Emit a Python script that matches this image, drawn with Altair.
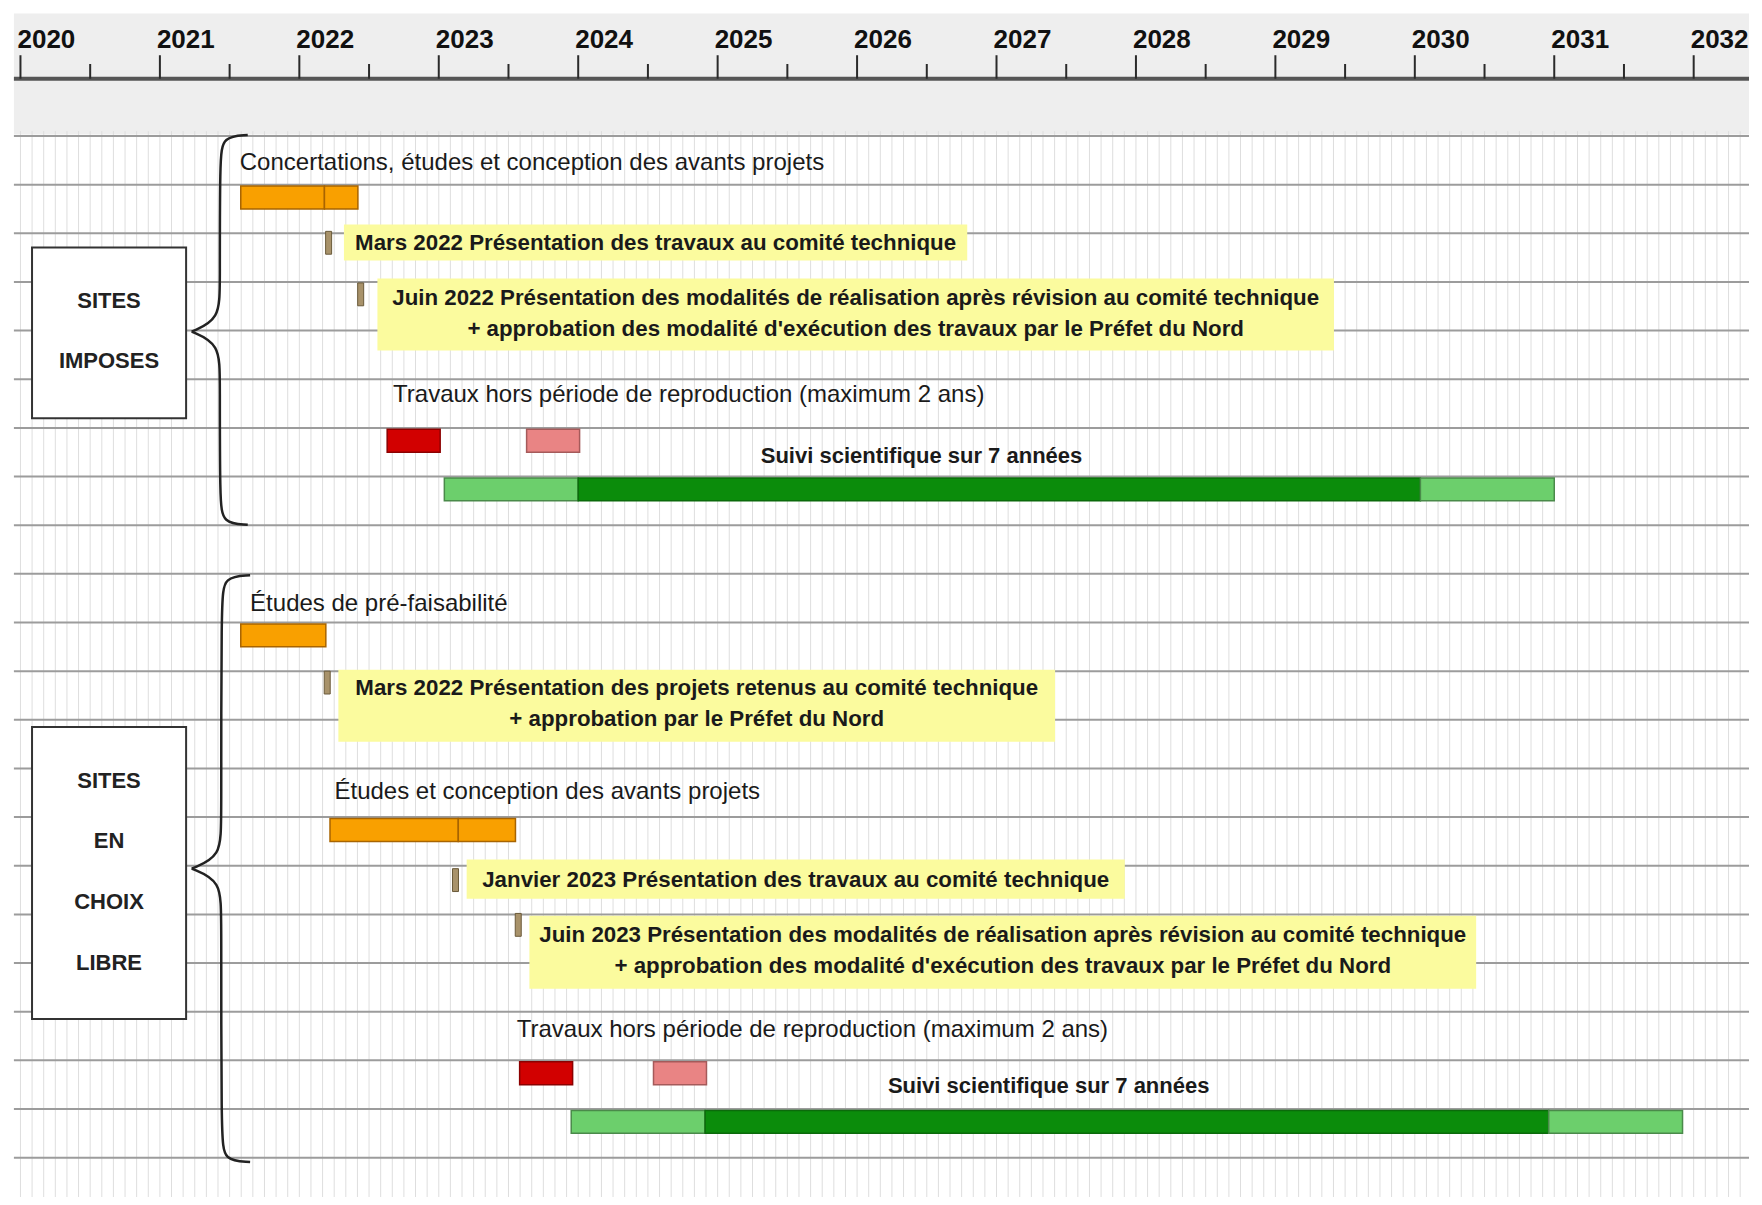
import altair as alt
import pandas as pd

FONT = "Liberation Sans, Arial, sans-serif"

# ---------------- axis (years) ----------------
year_ticks = [2020, 2021, 2022, 2023, 2024, 2025, 2026, 2027, 2028, 2029, 2030, 2031, 2032]
half_ticks = [2020.5, 2021.5, 2022.5, 2023.5, 2024.5, 2025.5, 2026.5, 2027.5, 2028.5, 2029.5, 2030.5, 2031.5]
month_grid = [2020 + m / 12 for m in range(-1, 151)]
grid_rows = list(range(22))

# ---------------- bars ----------------
bar_start = [2021.58, 2022.18, 2022.63, 2023.63, 2023.04, 2024.00, 2030.04,
             2021.58, 2022.22, 2023.14, 2023.58, 2024.54, 2023.95, 2024.91, 2030.96]
bar_end = [2022.18, 2022.42, 2023.01, 2024.01, 2024.00, 2030.04, 2031.00,
           2022.19, 2023.14, 2023.55, 2023.96, 2024.92, 2024.91, 2030.96, 2031.92]
bar_row = [1, 1, 6, 6, 7, 7, 7, 10, 14, 14, 19, 19, 20, 20, 20]
bar_kind = ["orange", "orange", "red", "pink", "lightgreen", "green", "lightgreen",
            "orange", "orange", "orange", "red", "pink", "lightgreen", "green", "lightgreen"]

# ---------------- milestones ----------------
ms_year = [2022.21, 2022.44, 2022.20, 2023.12, 2023.57]
ms_row = [1.96, 3.02, 11.0, 15.06, 15.98]

# ---------------- yellow notes ----------------
note_x0 = [2022.32, 2022.56, 2022.28, 2023.20, 2023.65]
note_x1 = [2026.79, 2029.42, 2027.42, 2027.92, 2030.44]
note_y0 = [1.82, 2.93, 10.97, 14.87, 16.03]
note_y1 = [2.56, 4.41, 12.45, 15.68, 17.53]
note_lines = [
    ["Mars 2022 Présentation des travaux au comité technique"],
    ["Juin 2022 Présentation des modalités de réalisation après révision au comité technique",
     "+ approbation des modalité d'exécution des travaux par le Préfet du Nord"],
    ["Mars 2022 Présentation des projets retenus au comité technique",
     "+ approbation par le Préfet du Nord"],
    ["Janvier 2023 Présentation des travaux au comité technique"],
    ["Juin 2023 Présentation des modalités de réalisation après révision au comité technique",
     "+ approbation des modalité d'exécution des travaux par le Préfet du Nord"],
]
note_line_rows = [[2.19], [3.33, 3.97], [11.34, 11.99], [15.29], [16.42, 17.07]]

# ---------------- plain labels ----------------
lab_text = ["Concertations, études et conception des avants projets",
            "Travaux hors période de reproduction (maximum 2 ans)",
            "Suivi scientifique sur 7 années",
            "Études de pré-faisabilité",
            "Études et conception des avants projets",
            "Travaux hors période de reproduction (maximum 2 ans)",
            "Suivi scientifique sur 7 années"]
lab_year = [2021.573, 2022.672, 2025.309, 2021.647, 2022.252, 2023.559, 2026.221]
lab_row = [0.55, 5.33, 6.58, 9.63, 13.49, 18.38, 19.52]
lab_bold = [False, False, True, False, False, False, True]

# ---------------- group boxes ----------------
box_x0 = [2020.083, 2020.083]
box_x1 = [2021.188, 2021.188]
box_y0 = [2.29, 12.15]
box_y1 = [5.80, 18.15]
box_words = ["SITES", "IMPOSES", "SITES", "EN", "CHOIX", "LIBRE"]
box_word_rows = [3.40, 4.62, 13.26, 14.50, 15.75, 17.00]
box_center = 2020.635

# ---------------- braces (tip x, spine x, point x, top, middle, bottom) ----------------
brace_tip = [2021.630, 2021.647]
brace_spine = [2021.430, 2021.440]
brace_point = [2021.228, 2021.228]
brace_top = [-0.02, 9.03]
brace_mid = [4.02, 15.06]
brace_bot = [7.99, 21.09]

# =====================================================================
W, H = 1746, 1189
XDOM = [2019.9465, 2032.3967]
YDOM = [-2.631, -2.631 + H / 48.65]
LEFT = 2019.953
RIGHT = XDOM[1]

xs = alt.Scale(domain=XDOM, nice=False, zero=False)
ys = alt.Scale(domain=YDOM, nice=False, zero=False, reverse=True)


def X(f="x"):
    return alt.X(f"{f}:Q", scale=xs, axis=None)


def Y(f="y"):
    return alt.Y(f"{f}:Q", scale=ys, axis=None)


band = alt.Chart(pd.DataFrame({"x": [LEFT], "x2": [RIGHT], "y": [-2.52], "y2": [-0.03]})).mark_rect(
    color="#eeeeee").encode(x=X(), x2="x2:Q", y=Y(), y2="y2:Q")

stripes = alt.Chart(pd.DataFrame({"x": [m for m in month_grid if LEFT <= m <= RIGHT], "y": -0.1, "y2": YDOM[1]})).mark_rule(
    color="#dedede", strokeWidth=1).encode(x=X(), y=Y(), y2="y2:Q")

hlines = alt.Chart(pd.DataFrame({"y": grid_rows, "x": LEFT, "x2": RIGHT})).mark_rule(
    color="#9c9c9c", strokeWidth=2).encode(x=X(), x2="x2:Q", y=Y())

notes_df = pd.DataFrame({"x": note_x0, "x2": note_x1, "y": note_y0, "y2": note_y1})
notes = alt.Chart(notes_df).mark_rect(color="#fbfb9e").encode(x=X(), x2="x2:Q", y=Y(), y2="y2:Q")

note_rows = []
for i, lines in enumerate(note_lines):
    for t, r in zip(lines, note_line_rows[i]):
        note_rows.append({"t": t, "x": (note_x0[i] + note_x1[i]) / 2, "y": r})
note_text = alt.Chart(pd.DataFrame(note_rows)).mark_text(
    font=FONT, fontSize=22.3, fontWeight="bold", color="#1a1a1a", align="center", baseline="middle"
).encode(x=X(), y=Y(), text="t:N")

brace_rows = []
for b in range(2):
    tip, sp, pt = brace_tip[b], brace_spine[b], brace_point[b]
    top, mid, bot = brace_top[b], brace_mid[b], brace_bot[b]
    half1 = [(tip, top), (sp + 0.02, top + 0.03), (sp, top + 0.5), (sp, mid - 1.0), (sp, mid - 0.25), (pt, mid)]
    half2 = [(pt, mid), (sp, mid + 0.25), (sp, mid + 1.0), (sp, bot - 0.5), (sp + 0.02, bot - 0.03), (tip, bot)]
    for h, pts in enumerate([half1, half2]):
        for k, (xx, yy) in enumerate(pts):
            brace_rows.append({"g": f"b{b}h{h}", "o": k, "x": xx, "y": yy})
braces = alt.Chart(pd.DataFrame(brace_rows)).mark_line(
    color="#222222", strokeWidth=2.5, interpolate="basis").encode(
    x=X(), y=Y(), detail="g:N", order="o:Q")

boxes = alt.Chart(pd.DataFrame({"x": box_x0, "x2": box_x1, "y": box_y0, "y2": box_y1})).mark_rect(
    fill="white", stroke="#333333", strokeWidth=2).encode(x=X(), x2="x2:Q", y=Y(), y2="y2:Q")
box_text = alt.Chart(pd.DataFrame({"t": box_words, "y": box_word_rows, "x": box_center})).mark_text(
    font=FONT, fontSize=22, fontWeight="bold", color="#222222", align="center", baseline="middle"
).encode(x=X(), y=Y(), text="t:N")

kinds = ["orange", "red", "pink", "lightgreen", "green"]
fills = ["#f9a000", "#d20000", "#e98484", "#6ccf6c", "#0b8c0b"]
strokes = ["#a86400", "#8c0000", "#a55a5a", "#4a8a4a", "#0b6a0b"]
bars_df = pd.DataFrame({"x": bar_start, "x2": bar_end, "row": bar_row, "kind": bar_kind})
bars = alt.Chart(bars_df).transform_calculate(
    y="datum.row + 0.03", y2="datum.row + 0.50"
).mark_rect(strokeWidth=1.5).encode(
    x=X(), x2="x2:Q", y=Y(), y2="y2:Q",
    fill=alt.Fill("kind:N", scale=alt.Scale(domain=kinds, range=fills), legend=None),
    stroke=alt.Stroke("kind:N", scale=alt.Scale(domain=kinds, range=strokes), legend=None),
)

ms = alt.Chart(pd.DataFrame({"x": ms_year, "row": ms_row})).transform_calculate(
    y2="datum.row + 0.47"
).mark_bar(size=6, fill="#a8926a", stroke="#6a5a3a", strokeWidth=1).encode(
    x=X(), y=Y("row"), y2="y2:Q")

lab_df = pd.DataFrame({"t": lab_text, "x": lab_year, "y": lab_row, "b": lab_bold})
labels_n = alt.Chart(lab_df[~lab_df.b]).mark_text(
    font=FONT, fontSize=24, color="#1a1a1a", align="left", baseline="middle"
).encode(x=X(), y=Y(), text="t:N")
labels_b = alt.Chart(lab_df[lab_df.b]).mark_text(
    font=FONT, fontSize=22, fontWeight="bold", color="#1a1a1a", align="left", baseline="middle"
).encode(x=X(), y=Y(), text="t:N")

axis_line = alt.Chart(pd.DataFrame({"x": [LEFT], "x2": [RIGHT], "y": [-1.178]})).mark_rule(
    color="#555555", strokeWidth=4).encode(x=X(), x2="x2:Q", y=Y())
major = alt.Chart(pd.DataFrame({"x": year_ticks, "y": -1.66, "y2": -1.178})).mark_rule(
    color="#2a2a2a", strokeWidth=2).encode(x=X(), y=Y(), y2="y2:Q")
minor = alt.Chart(pd.DataFrame({"x": half_ticks, "y": -1.48, "y2": -1.178})).mark_rule(
    color="#2a2a2a", strokeWidth=2).encode(x=X(), y=Y(), y2="y2:Q")
year_text = alt.Chart(pd.DataFrame({"x": year_ticks, "y": -1.98})).mark_text(
    font=FONT, fontSize=26, fontWeight="bold", color="#111111", align="left", baseline="middle", dx=-3
).encode(x=X(), y=Y(), text=alt.Text("x:Q", format="d"))

chart = alt.layer(
    band, stripes, hlines, notes, braces, boxes, box_text, bars, ms, labels_n, labels_b, note_text,
    axis_line, major, minor, year_text
).properties(
    width=W, height=H, padding=0,
    autosize=alt.AutoSizeParams(type="none", contains="padding"),
).configure_view(stroke=None)

chart.save("out.html", embed_options={"renderer": "svg", "actions": False})
